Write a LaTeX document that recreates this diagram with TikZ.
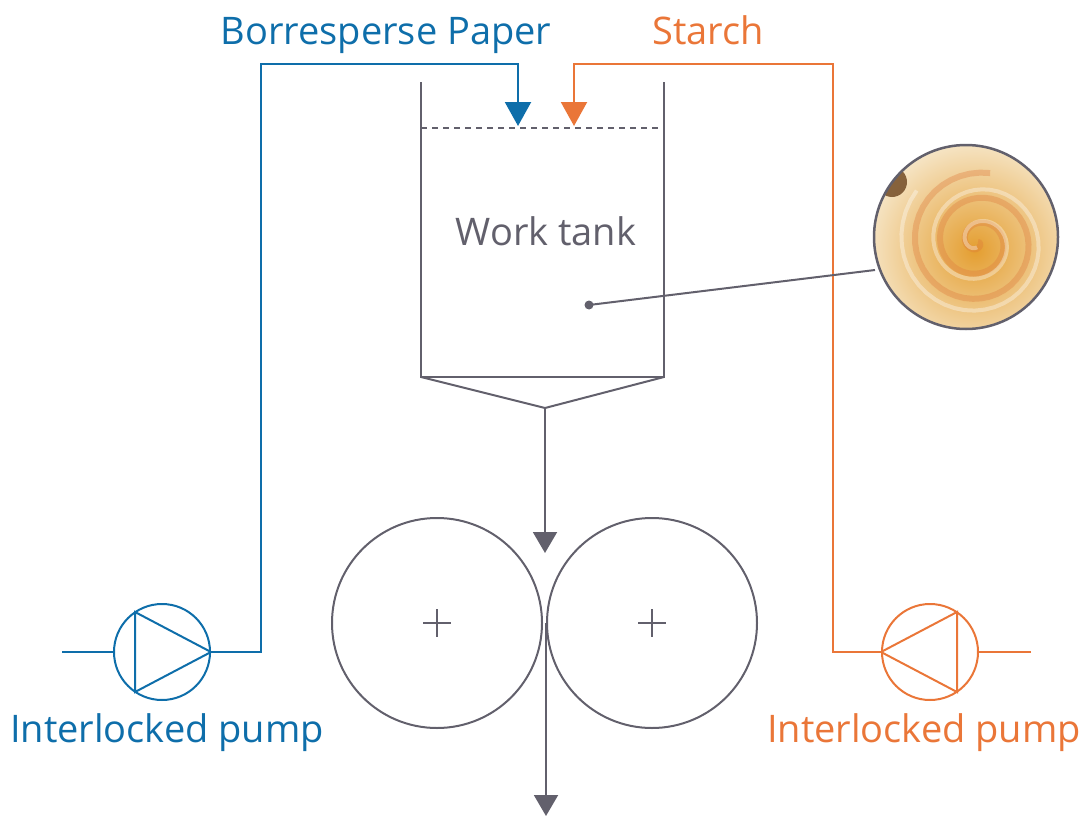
\documentclass[tikz,border=0pt]{standalone}
\usepackage{fontspec}
\setmainfont{Open Sans}
\usetikzlibrary{arrows.meta}
\definecolor{pumpblue}{RGB}{14,110,170}
\definecolor{starchorange}{RGB}{234,118,56}
\definecolor{tankgray}{RGB}{98,96,108}
\definecolor{starchcream}{RGB}{246,230,200}
\definecolor{starchamber}{RGB}{228,158,48}
\tikzset{
  feedline/.style={line width=2.2pt,-{Triangle[width=26pt,length=24pt]}},
  tankline/.style={tankgray,line width=2pt},
  flowline/.style={tankgray,line width=2pt,-{Triangle[width=24pt,length=21pt]}},
  pumpline/.style={line width=2pt},
  label/.style={font=\fontsize{38}{44}\selectfont,anchor=base,inner sep=0pt}
}
\begin{document}
\begin{tikzpicture}[x=1pt,y=-1pt]
	    \useasboundingbox (0,0) rectangle (1084,816);
	    \node[label,text=pumpblue] (paper) at (386,45) {Borresperse Paper};
	    \node[label,text=starchorange] (starch) at (708,45) {Starch};
	    \coordinate (tankTL) at (421,82);
	    \coordinate (tankTR) at (664,82);
	    \coordinate (tankBL) at (421,377);
	    \coordinate (tankBR) at (664,377);
	    \coordinate (funnel) at (545,408);
	    \draw[tankline] (tankTL) -- (tankBL) -- (tankBR) -- (tankTR);
	    \draw[tankline] (tankBL) -- (funnel) -- (tankBR);
	    \draw[tankgray,line width=1.6pt,dash pattern=on 6pt off 5pt] (421,128) -- (664,128);
	    \node[label,text=tankgray] (worktank) at (546,245) {Work tank};
	    % pumps
	    \node[draw=pumpblue,pumpline,circle,minimum size=96pt,inner sep=0pt] (pumpL) at (162,652) {};
	    \draw[pumpblue,pumpline] (135,612) -- (135,692) -- (pumpL.east) -- cycle;
	    \coordinate (inL) at (62,652);
	    \draw[pumpblue,pumpline] (inL) -- (pumpL.west);
	    \node[label,text=pumpblue] (pumpLtext) at (167,742) {Interlocked pump};
	    \node[draw=starchorange,pumpline,circle,minimum size=96pt,inner sep=0pt] (pumpR) at (930,652) {};
	    \draw[starchorange,pumpline] (957,612) -- (957,692) -- (pumpR.west) -- cycle;
	    \coordinate (inR) at (1031,652);
	    \draw[starchorange,pumpline] (inR) -- (pumpR.east);
	    \node[label,text=starchorange] (pumpRtext) at (924,742) {Interlocked pump};
	    % feeds
	    \coordinate (paperin) at (518,126);
	    \coordinate (starchin) at (574,126);
	    \draw[pumpblue,feedline] (pumpL.east) -- (261,652) -- (261,64) -- (518,64) -- (paperin);
	    \draw[starchorange,feedline] (pumpR.west) -- (833,652) -- (833,64) -- (574,64) -- (starchin);
	    % rollers
	    \node[draw=tankgray,line width=2pt,circle,minimum size=210pt,inner sep=0pt] (rollL) at (437,623) {};
	    \node[draw=tankgray,line width=2pt,circle,minimum size=210pt,inner sep=0pt] (rollR) at (652,623) {};
	    \draw[tankgray,line width=1.5pt] (423,623) -- (451,623) (437,609) -- (437,637);
	    \draw[tankgray,line width=1.5pt] (638,623) -- (666,623) (652,609) -- (652,637);
	    \coordinate (nipin) at (545,553);
	    \coordinate (nip) at (546,623);
	    \coordinate (outlet) at (546,816);
	    \draw[flowline] (funnel) -- (nipin);
	    \draw[flowline] (nip) -- (outlet);
	    % sample photo
	    \coordinate (photo) at (966,237);
	    \begin{scope}
	      \clip (photo) circle (92);
	      \shade[inner color=starchamber,outer color=starchcream] (975,250) circle (110);
	      \draw[starchorange!70!brown,line width=6pt,opacity=0.35,domain=0:1000,samples=120,variable=\t]
	        plot ({978+(\t/1000*70)*cos(\t)},{242+(\t/1000*70)*sin(\t)});
	      \draw[white,line width=4pt,opacity=0.35,domain=60:900,samples=100,variable=\t]
	        plot ({978+(\t/900*80)*cos(\t+40)},{242+(\t/900*80)*sin(\t+40)});
	      \fill[brown!60!black,opacity=0.85] (892,182) circle (15);
	    \end{scope}
	    \draw[tankgray,line width=2.5pt] (photo) circle (92);
	    \coordinate (sample) at (589,305);
	    \fill[tankgray] (sample) circle (4.5);
	    \draw[tankline] (sample) -- (875,270);
\end{tikzpicture}
\end{document}
